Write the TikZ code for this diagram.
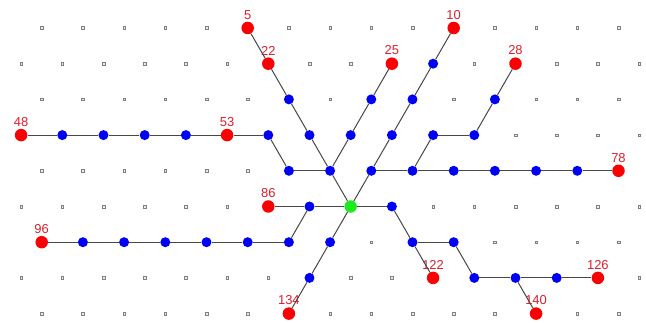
\documentclass[tikz,border=0pt]{standalone}
\usepackage{fontspec}
\setmainfont{Liberation Sans}
\usepackage{tikz}
\definecolor{nodered}{RGB}{250,0,0}
\definecolor{labelred}{RGB}{220,30,45}
\definecolor{nodeblue}{RGB}{0,0,245}
\definecolor{nodegreen}{RGB}{30,235,30}
\tikzset{
  gridpt/.style={draw=gray,fill=gray!15,line width=0.5bp},
  leaf/.style={circle,fill=nodered,minimum size=12.5bp,inner sep=0pt},
  inner/.style={circle,fill=nodeblue,minimum size=10bp,inner sep=0pt},
  root/.style={circle,fill=nodegreen,minimum size=12.5bp,inner sep=0pt},
  link/.style={draw=black!72,line width=1bp},
  num/.style={text=labelred,font=\fontsize{13}{13}\selectfont,inner sep=2bp}
}
\begin{document}
\begin{tikzpicture}[x=20.6bp,y=-35.7bp]
        \useasboundingbox (-0.024,-0.784) rectangle (31.335,8.263);

        % 格子点
        \foreach \r in {0,2,4,6,8}
          \foreach \c in {2,4,...,30}
            \draw[gridpt] (\c,\r) ++(-1.3bp,-1.3bp) rectangle ++(2.6bp,2.6bp);
        \foreach \r in {1,3,5,7}
          \foreach \c in {1,3,...,31}
            \draw[gridpt] (\c,\r) ++(-1.3bp,-1.3bp) rectangle ++(2.6bp,2.6bp);

        % 根
        \node[root] (p17-5) at (17,5) {};

        % 中間の点
        \foreach \c/\r in {16/4,15/3,14/2,17/3,18/2,14/4,13/3,3/3,5/3,7/3,9/3,
                           18/4,19/3,20/2,21/1,20/4,22/4,24/4,26/4,28/4,21/3,23/3,24/2,
                           15/5,14/6,12/6,10/6,8/6,6/6,4/6,16/6,15/7,
                           19/5,20/6,22/6,23/7,25/7,27/7}
          \node[inner] (p\c-\r) at (\c,\r) {};

        % 葉
        \foreach \c/\r/\t in {12/0/5,13/1/22,19/1/25,22/0/10,25/1/28,1/3/48,11/3/53,
                              30/4/78,13/5/86,2/6/96,21/7/122,29/7/126,14/8/134,26/8/140}
          \node[leaf,label={[num]above:\t}] (p\c-\r) at (\c,\r) {};

        % 辺
        \foreach \a/\b in {17-5/16-4,16-4/15-3,15-3/14-2,14-2/13-1,13-1/12-0,
                           16-4/17-3,17-3/18-2,18-2/19-1,
                           16-4/14-4,14-4/13-3,13-3/11-3,11-3/9-3,9-3/7-3,7-3/5-3,5-3/3-3,3-3/1-3,
                           17-5/18-4,18-4/19-3,19-3/20-2,20-2/21-1,21-1/22-0,
                           18-4/20-4,20-4/22-4,22-4/24-4,24-4/26-4,26-4/28-4,28-4/30-4,
                           20-4/21-3,21-3/23-3,23-3/24-2,24-2/25-1,
                           17-5/15-5,15-5/13-5,15-5/14-6,14-6/12-6,12-6/10-6,10-6/8-6,8-6/6-6,6-6/4-6,4-6/2-6,
                           17-5/16-6,16-6/15-7,15-7/14-8,
                           17-5/19-5,19-5/20-6,20-6/21-7,20-6/22-6,22-6/23-7,23-7/25-7,25-7/27-7,27-7/29-7,25-7/26-8}
          \draw[link] (p\a) -- (p\b);
      \end{tikzpicture}
\end{document}
